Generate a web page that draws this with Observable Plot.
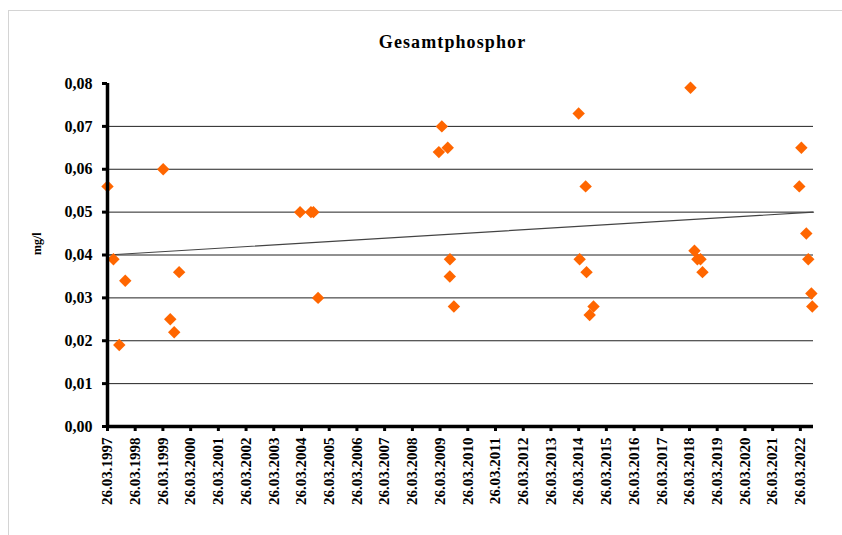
<!DOCTYPE html>
<html>
<head>
<meta charset="utf-8">
<script src="https://cdn.jsdelivr.net/npm/d3@7"></script>
<script src="https://cdn.jsdelivr.net/npm/@observablehq/plot@0.6"></script>
<style>
  html, body { margin: 0; padding: 0; background: #fff; }
  #wrap { position: relative; width: 842px; height: 535px; overflow: hidden; }
  #border { position: absolute; left: 8px; top: 10px; width: 840px; height: 530px; border: 1px solid #d4d4d4; box-sizing: border-box; pointer-events: none; }
  #wrap svg, #wrap svg text { font-family: "Liberation Serif", "Times New Roman", serif !important; }
</style>
</head>
<body>
<div id="wrap"><div id="border"></div></div>
<script>
const title = "Gesamtphosphor";
const yLabel = "mg/l";

const dates = [
  "1997-03-26","1997-06-12","1997-08-28","1997-11-15",
  "1999-03-30","1999-07-01","1999-08-22","1999-10-26",
  "2004-03-07","2004-07-28","2004-08-30","2004-10-30",
  "2009-03-10","2009-04-18","2009-07-05","2009-08-03","2009-08-01","2009-09-24",
  "2014-03-26","2014-04-08","2014-06-26","2014-07-08","2014-08-18","2014-10-08",
  "2018-04-08","2018-05-30","2018-07-08","2018-08-18","2018-09-13",
  "2022-03-12","2022-04-08","2022-06-12","2022-07-08","2022-08-18","2022-08-30"
];
const values = [
  0.056, 0.039, 0.019, 0.034,
  0.060, 0.025, 0.022, 0.036,
  0.050, 0.050, 0.050, 0.030,
  0.064, 0.070, 0.065, 0.039, 0.035, 0.028,
  0.073, 0.039, 0.056, 0.036, 0.026, 0.028,
  0.079, 0.041, 0.039, 0.039, 0.036,
  0.056, 0.065, 0.045, 0.039, 0.031, 0.028
];

const trendDates = ["1997-03-26", "2022-09-15"];
const trendValues = [0.040, 0.050];

const tickYears = d3.range(1997, 2023);
const yTicks = [0, 0.01, 0.02, 0.03, 0.04, 0.05, 0.06, 0.07, 0.08];
const gridValues = [0.01, 0.02, 0.03, 0.04, 0.05, 0.06, 0.07];

const points = dates.map((d, i) => ({date: new Date(d + "T00:00:00Z"), value: values[i]}));
const trend = trendDates.map((d, i) => ({date: new Date(d + "T00:00:00Z"), value: trendValues[i]}));
const xTicks = tickYears.map(y => new Date(Date.UTC(y, 2, 26)));
const xDomain = [new Date(trendDates[0] + "T00:00:00Z"), new Date(trendDates[1] + "T00:00:00Z")];
const serif = '"Liberation Serif", "Times New Roman", serif';

const chart = Plot.plot({
  width: 842,
  height: 535,
  marginLeft: 107,
  marginRight: 29,
  marginTop: 83,
  marginBottom: 109,
  style: {fontFamily: serif, background: "transparent", color: "#000"},
  x: {type: "utc", domain: xDomain},
  y: {domain: [0, 0.08]},
  marks: [
    Plot.ruleY(gridValues, {stroke: "#222", strokeWidth: 1}),
    Plot.line(trend, {x: "date", y: "value", stroke: "#444", strokeWidth: 1.2}),
    Plot.dot(points, {x: "date", y: "value", symbol: "diamond2", r: 5.6, fill: "#ff6600", stroke: "none"}),
    Plot.axisY({ticks: yTicks, tickFormat: d => d.toFixed(2).replace(".", ","), tickSize: 5, tickPadding: 10,
      strokeWidth: 3, fontSize: 16, fontWeight: "bold", fontFamily: serif, label: null}),
    Plot.axisX({ticks: xTicks, tickFormat: d3.utcFormat("%d.%m.%Y"), tickSize: 5, tickPadding: 6,
      tickRotate: -90, strokeWidth: 3, fontSize: 15, fontWeight: "bold", fontFamily: serif, label: null}),
    Plot.ruleX([xDomain[0]], {stroke: "#000", strokeWidth: 3.5}),
    Plot.ruleY([0], {stroke: "#000", strokeWidth: 3.5}),
    Plot.text([title], {frameAnchor: "top", lineAnchor: "middle", dy: -41, dx: -8, fontSize: 18, fontWeight: "bold", fontFamily: serif}),
    Plot.text([yLabel], {frameAnchor: "left", dx: -70, rotate: -90, fontSize: 12, fontWeight: "bold", fontFamily: serif})
  ]
});
d3.select(chart).selectAll("text")
  .filter(function() { return this.textContent === title; })
  .style("letter-spacing", "1.1px");
document.getElementById("wrap").appendChild(chart);
chart.style.position = "absolute";
chart.style.left = "0px";
chart.style.top = "0px";
</script>
</body>
</html>
